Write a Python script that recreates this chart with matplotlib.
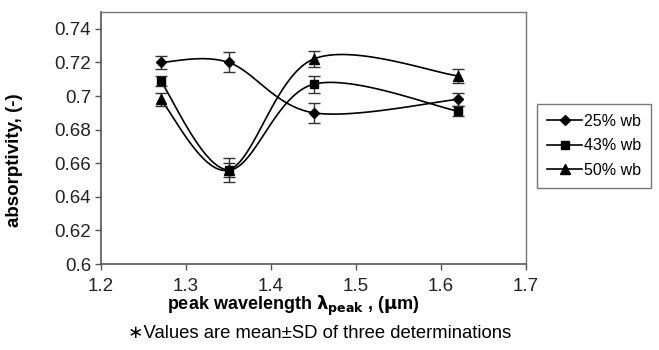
import numpy as np
import matplotlib.pyplot as plt

plt.rcParams['font.family'] = ['Liberation Sans', 'DejaVu Sans']

wavelength = [1.27, 1.35, 1.45, 1.62]
abs_25 = [0.720, 0.720, 0.690, 0.698]
err_25 = [0.004, 0.006, 0.006, 0.004]
abs_43 = [0.709, 0.656, 0.707, 0.691]
err_43 = [0.003, 0.007, 0.005, 0.003]
abs_50 = [0.698, 0.656, 0.722, 0.712]
err_50 = [0.004, 0.004, 0.005, 0.004]
labels = ['25% wb', '43% wb', '50% wb']
markers = ['D', 's', '^']
msizes = [5, 6, 7]

xlim = (1.2, 1.7)
ylim = (0.6, 0.75)


def smooth(x, y, ax_w=425.0, ax_h=252.0, n=40):
    # excel-style smoothed line: catmull-rom bezier in screen space
    px = (np.asarray(x) - xlim[0]) / (xlim[1] - xlim[0]) * ax_w
    py = (np.asarray(y) - ylim[0]) / (ylim[1] - ylim[0]) * ax_h
    P = np.column_stack([px, py])
    P = np.vstack([P[0], P, P[-1]])
    out = []
    t = np.linspace(0, 1, n)[:, None]
    for i in range(1, len(P) - 2):
        p0, p1, p2, p3 = P[i - 1], P[i], P[i + 1], P[i + 2]
        c1 = p1 + (p2 - p0) / 6
        c2 = p2 - (p3 - p1) / 6
        seg = ((1 - t) ** 3) * p1 + 3 * ((1 - t) ** 2) * t * c1 + 3 * (1 - t) * t ** 2 * c2 + t ** 3 * p2
        out.append(seg)
    out = np.vstack(out)
    sx = out[:, 0] / ax_w * (xlim[1] - xlim[0]) + xlim[0]
    sy = out[:, 1] / ax_h * (ylim[1] - ylim[0]) + ylim[0]
    return sx, sy


fig = plt.figure(figsize=(6.59, 3.5), dpi=100)
ax = fig.add_axes([101 / 659, 1 - 264 / 350, 425 / 659, 252 / 350])

for vals, errs, lab, m, ms in zip([abs_25, abs_43, abs_50], [err_25, err_43, err_50], labels, markers, msizes):
    sx, sy = smooth(wavelength, vals)
    ax.plot(sx, sy, color='black', lw=1.2)
    ax.errorbar(wavelength, vals, yerr=errs, fmt='none', ecolor='#333333', elinewidth=1, capsize=4, capthick=1)
    ax.plot(wavelength, vals, linestyle='none', marker=m, ms=ms, color='black')
    ax.plot([], [], color='black', lw=1.2, marker=m, ms=ms, label=lab)

ax.set_xlim(*xlim)
ax.set_ylim(*ylim)
ax.set_xticks([1.2, 1.3, 1.4, 1.5, 1.6, 1.7])
ax.set_xticklabels(['1.2', '1.3', '1.4', '1.5', '1.6', '1.7'])
ax.set_yticks([0.6, 0.62, 0.64, 0.66, 0.68, 0.7, 0.72, 0.74])
ax.set_yticklabels(['0.6', '0.62', '0.64', '0.66', '0.68', '0.7', '0.72', '0.74'])
ax.tick_params(direction='out', length=4, width=1, color='#555555', labelsize=13.5, colors='#222222', pad=3)
ax.tick_params(axis='x', pad=6)
for s in ['left', 'bottom']:
    ax.spines[s].set_color('#555555')
    ax.spines[s].set_linewidth(1.2)
for s in ['top', 'right']:
    ax.spines[s].set_color('#777777')
    ax.spines[s].set_linewidth(1)

ax.set_ylabel('absorptivity, (-)', fontsize=13.5, fontweight='bold')
ax.yaxis.set_label_coords(-0.184, 0.413)

fig.text(293 / 659, 1 - 306 / 350, r'peak wavelength $\mathbf{\lambda_{peak}}$ , ($\mathbf{\mu}$m)',
         ha='center', va='center', fontsize=13, fontweight='bold')
fig.text(320 / 659, 1 - 334 / 350, '\u2217Values are mean\u00b1SD of three determinations',
         ha='center', va='center', fontsize=13.3)

leg = fig.legend(loc='center', bbox_to_anchor=(594 / 659, 1 - 146 / 350), fontsize=11.5,
                 frameon=True, fancybox=False, handlelength=2.2, borderpad=0.6, labelspacing=0.6,
                 handletextpad=0.1)
leg.get_frame().set_edgecolor('#555555')
leg.get_frame().set_linewidth(1)

fig.savefig('out.png', dpi=100)
